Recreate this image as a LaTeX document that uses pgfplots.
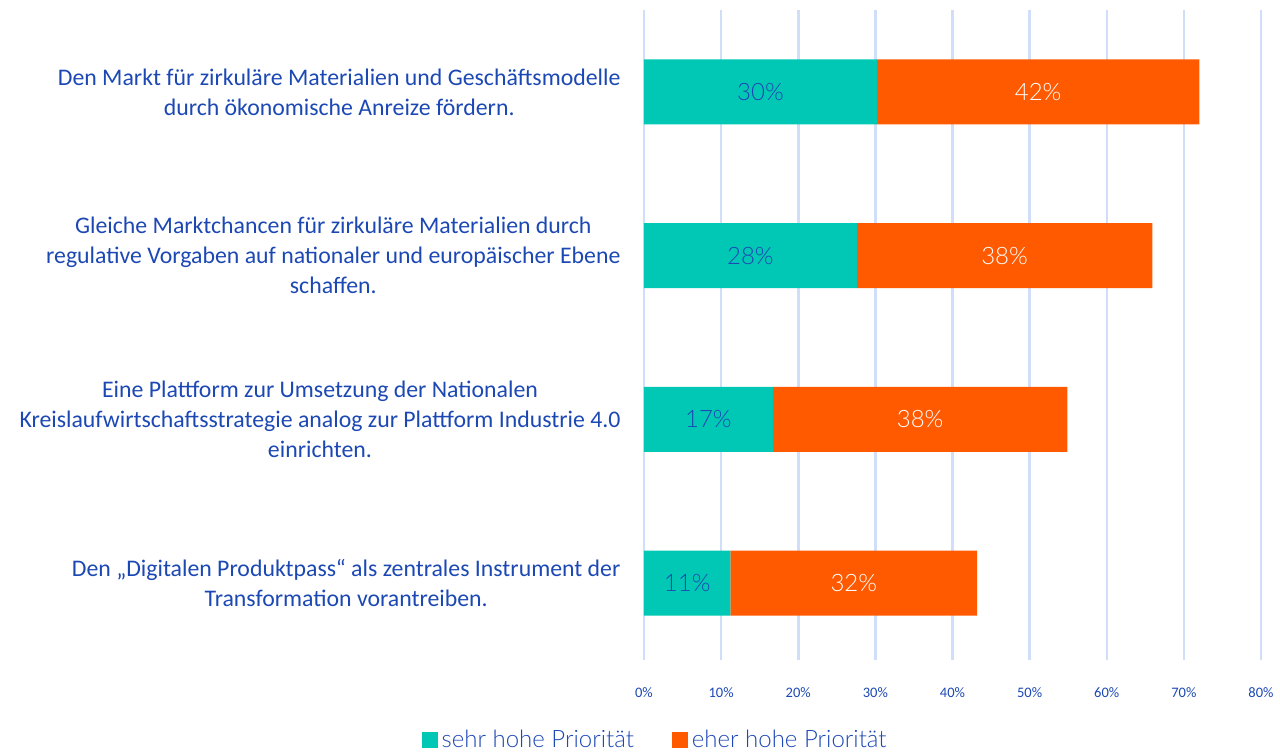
\documentclass[border=0pt]{standalone}
\usepackage{pgfplots}
\usepackage{pgfplotstable}
\pgfplotsset{compat=1.18}
\usepackage{fontspec}
\setmainfont{Carlito}
\newfontfamily\lightfont{Lato Light}
\definecolor{teal1}{RGB}{0,200,180}
\definecolor{orange1}{RGB}{255,90,0}
\definecolor{txtblue}{RGB}{28,72,180}
\definecolor{gridblue}{RGB}{208,222,250}
\pgfplotstableread{
y a b
0 11.2 32.0
1 16.7 38.2
2 27.6 38.3
3 30.2 41.8
}\data
\begin{document}
\begin{tikzpicture}
\useasboundingbox (0,0) rectangle (1280bp,752bp);
\begin{axis}[
  at={(644bp,92bp)}, anchor=south west,
  scale only axis, width=617bp, height=650bp,
  xbar stacked, bar width=65bp,
  xmin=0, xmax=80, ymin=-0.47, ymax=3.5,
  xtick={0,10,...,80},
  xticklabel={\pgfmathprintnumber{\tick}\%},
  ytick={0,1,2,3},
  yticklabels={
    {Den „Digitalen Produktpass“ als zentrales Instrument der\\Transformation vorantreiben.},
    {Eine Plattform zur Umsetzung der Nationalen\\Kreislaufwirtschaftsstrategie analog zur Plattform Industrie 4.0\\einrichten.},
    {Gleiche Marktchancen für zirkuläre Materialien durch\\regulative Vorgaben auf nationaler und europäischer Ebene\\schaffen.},
    {Den Markt für zirkuläre Materialien und Geschäftsmodelle\\durch ökonomische Anreize fördern.}},
  yticklabel style={align=center, font=\fontsize{23.8bp}{30bp}\selectfont, text=txtblue, xshift=-20bp},
  xticklabel style={font=\fontsize{14.5bp}{17bp}\selectfont, text=txtblue, yshift=-24bp},
  /pgf/number format/assume math mode=true,
  major tick length=0pt,
  axis line style={draw=none},
  xmajorgrids, major grid style={gridblue, line width=2.5bp},
  nodes near coords={\pgfmathprintnumber[fixed,precision=0]{\pgfplotspointmeta}\%},
  every node near coord/.append style={anchor=center, font=\lightfont\fontsize{24bp}{28bp}\selectfont},
  legend style={at={(0.018,-0.123)}, anchor=center, draw=none, legend columns=2,
    font=\lightfont\fontsize{24bp}{28bp}\selectfont, text=txtblue,
    /tikz/every even column/.append style={column sep=36bp},
    /tikz/every odd column/.append style={column sep=2bp},
    inner sep=0pt},
  legend image code/.code={\path[#1,draw=none] (0bp,-8bp) rectangle (16bp,8bp);},
]
\addplot[fill=teal1, draw=none, nodes near coords style={text=txtblue}] table[x=a, y=y] {\data};
\addplot[fill=orange1, draw=none, nodes near coords style={text=white}] table[x=b, y=y] {\data};
\legend{sehr hohe Priorität, eher hohe Priorität}
\end{axis}
\end{tikzpicture}
\end{document}
